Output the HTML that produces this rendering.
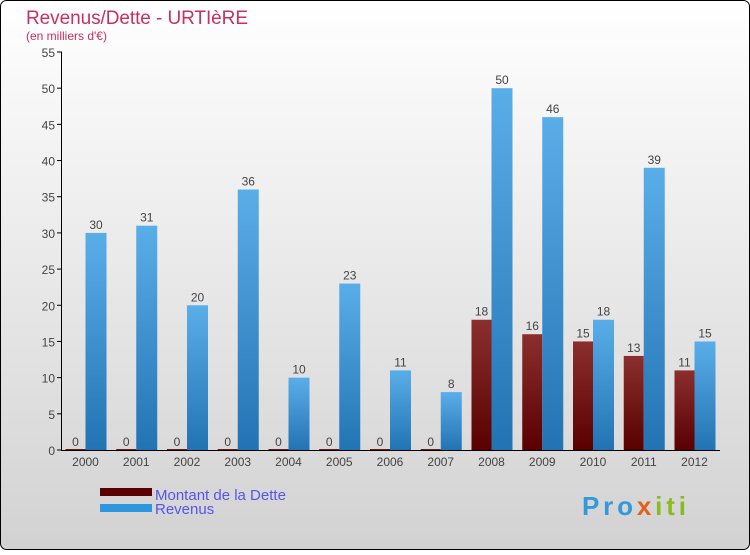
<!DOCTYPE html>
<html><head><meta charset="utf-8"><style>
body{margin:0;width:750px;height:550px;overflow:hidden;font-family:"Liberation Sans","DejaVu Sans",sans-serif}
svg text{font-family:"Liberation Sans","DejaVu Sans",sans-serif}
</style></head><body>
<svg id="c" width="750" height="550" xmlns="http://www.w3.org/2000/svg">
<defs>
<linearGradient id="bg" x1="0" y1="0" x2="0" y2="1"><stop offset="0" stop-color="#ffffff"/><stop offset="1" stop-color="#d2d2d2"/></linearGradient>
<linearGradient id="rev" x1="0" y1="0" x2="0" y2="1"><stop offset="0" stop-color="#5aaee8"/><stop offset="1" stop-color="#2273b3"/></linearGradient>
<linearGradient id="debt" x1="0" y1="0" x2="0" y2="1"><stop offset="0" stop-color="#8b2e2e"/><stop offset="1" stop-color="#5a0000"/></linearGradient>
</defs>
<rect x="0.5" y="0.5" width="749" height="549" rx="6" fill="url(#bg)" stroke="#000"/>
<text x="26" y="24" font-size="19" fill="#c8305f" textLength="222">Revenus/Dette - URTIèRE</text>
<text x="26" y="40" font-size="12" fill="#c8305f">(en milliers d'€)</text>
<g id="plot"></g>
<rect x="100" y="488" width="52" height="8" fill="#5a0000"/>
<text x="155" y="500" font-size="15" fill="#5555ee">Montant de la Dette</text>
<rect x="100" y="504" width="52" height="8" fill="#2e96de"/>
<text x="155" y="514" font-size="15" fill="#5555ee">Revenus</text>
<text x="582" y="515" font-size="26" font-weight="bold" fill="#3399dd" textLength="104">Pro<tspan fill="#e06020">x</tspan><tspan fill="#88bb22">iti</tspan></text>
</svg>
<script>
const years=["2000","2001","2002","2003","2004","2005","2006","2007","2008","2009","2010","2011","2012"];
const debt=[0,0,0,0,0,0,0,0,18,16,15,13,11];
const revenus=[30,31,20,36,10,23,11,8,50,46,18,39,15];
const yTicks=[0,5,10,15,20,25,30,35,40,45,50,55];
const NS="http://www.w3.org/2000/svg";
const g=document.getElementById('plot');
const y=v=>450-v*398/55;
const x=i=>85.5+i*50.75;
function el(t,a,txt){const e=document.createElementNS(NS,t);for(const k in a)e.setAttribute(k,a[k]);if(txt!==undefined)e.textContent=txt;g.appendChild(e);return e;}
yTicks.forEach(v=>{
 const t=el('line',{x1:57,x2:62,y1:y(v),y2:y(v),stroke:'#000'});
 
 
 const l=el('text',{x:55,y:y(v)+5,'font-size':12,fill:'#444','text-anchor':'end'},v);
 
 
});
years.forEach((yr,i)=>{
 const cx=x(i);
 const d=debt[i],r=revenus[i];
 const db=el('rect',{x:cx-20,y:Math.min(y(d),449),width:20,height:Math.max(450-y(d),1),fill:'url(#debt)'});
 
 
 const rb=el('rect',{x:cx,y:y(r),width:21,height:450-y(r),fill:'url(#rev)'});
 
 
 const dl=el('text',{x:cx-10,y:y(d)-4,'font-size':12,fill:'#444','text-anchor':'middle'},d);
 
 
 const rl=el('text',{x:cx+10.5,y:y(r)-4,'font-size':12,fill:'#444','text-anchor':'middle'},r);
 
 
 const xl=el('text',{x:cx,y:466,'font-size':12,fill:'#444','text-anchor':'middle'},yr);
 
 
});
const ya=el('line',{x1:61.5,x2:61.5,y1:52,y2:450,stroke:'#000'});


const xa=el('line',{x1:61,x2:720,y1:450.5,y2:450.5,stroke:'#000'});


</script>
</body></html>
